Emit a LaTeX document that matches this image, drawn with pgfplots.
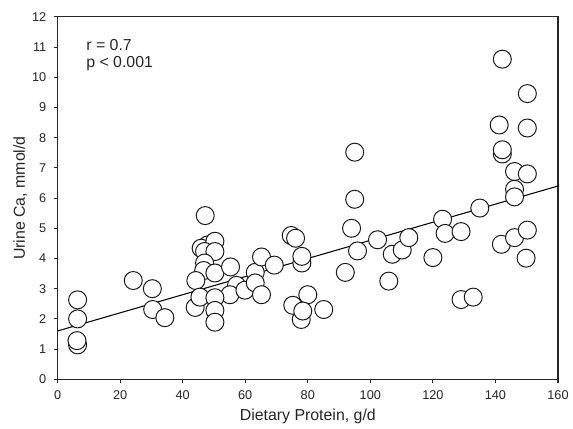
\documentclass[border=0pt]{standalone}
\usepackage{fontspec}
\setmainfont{Liberation Sans}
\usepackage{pgfplots}
\pgfplotsset{compat=1.18}
\begin{document}
\begin{tikzpicture}
\begin{axis}[
  scale only axis,
  width=378pt, height=273.75pt,
  xmin=0, xmax=160, ymin=0, ymax=12,
  xtick={0,20,...,160}, ytick={0,1,...,12},
  xtick pos=left, ytick pos=left,
  tick align=outside,
  major tick length=3pt,
  axis line style={line width=0.8pt, black!85},
  every tick/.style={line width=0.8pt, black!85},
  /pgf/number format/assume math mode=true,
  tick label style={font=\fontsize{9.6}{11}\selectfont, text=black!85},
  xticklabel style={yshift=-2pt},
  yticklabel style={xshift=-2pt},
  label style={font=\fontsize{12}{14}\selectfont, text=black!85},
  xlabel={Dietary Protein, g/d},
  ylabel={Urine Ca, mmol/d},
  xlabel style={at={(axis description cs:0.5,-0.115)}, anchor=base},
  ylabel style={at={(axis description cs:-0.0655,0.5)}, anchor=base},
  clip=false,
]
\addplot[black, line width=0.8pt, no marks] coordinates {(0,1.6) (160,6.4)};
\addplot[only marks, mark=*, mark size=6.8pt,
  mark options={fill=white, draw=black!90, line width=0.75pt}] coordinates {
(6.4,2.63) (6.4,2.0) (6.4,1.14) (6.2,1.28)
(24.2,3.27) (30.3,3.0) (30.4,2.31) (34.3,2.04)
(47.2,5.42) (48.0,4.45) (45.9,4.34) (50.3,4.57) (47.0,4.23) (50.3,4.23)
(47.0,3.85) (46.7,3.60) (44.2,3.27) (50.3,3.52) (55.3,3.72)
(44.0,2.38) (45.5,2.72) (57.2,3.11) (55.1,2.80) (50.3,2.70) (50.3,2.28) (50.3,1.89)
(59.9,2.95) (63.2,3.54) (63.2,3.19) (65.2,4.05) (65.2,2.80) (69.3,3.78)
(74.7,4.76) (76.1,4.67) (78.1,3.85) (78.1,4.07)
(75.2,2.45) (80.0,2.80) (77.9,1.98) (78.4,2.26) (85.1,2.31)
(95.0,7.52) (95.0,5.96) (94.0,5.00) (95.9,4.25) (92.0,3.54)
(102.3,4.62) (107.0,4.14) (105.9,3.25) (110.2,4.28) (112.3,4.69)
(120.0,4.03) (123.1,5.30) (123.9,4.83) (129.0,4.89)
(129.0,2.64) (132.9,2.72) (135.0,5.67)
(142.2,10.6) (150.2,9.46) (141.2,8.42) (150.2,8.32)
(142.2,7.46) (142.2,7.6) (146.1,6.88) (150.2,6.80) (146.1,6.29) (146.1,6.04)
(141.9,4.47) (146.1,4.69) (150.2,4.94) (149.8,4.01)
};
\node[anchor=base west, inner sep=0pt, font=\fontsize{12}{14}\selectfont, text=black!85] at (axis cs:9.1,10.88) {r = 0.7};
\node[anchor=base west, inner sep=0pt, font=\fontsize{12}{14}\selectfont, text=black!85] at (axis cs:9.1,10.31) {p < 0.001};
\end{axis}
\path (current axis.south west) ++(-43.5pt,-35.25pt);
\path (current axis.north east) ++(8.25pt,12.75pt);
\end{tikzpicture}
\end{document}
